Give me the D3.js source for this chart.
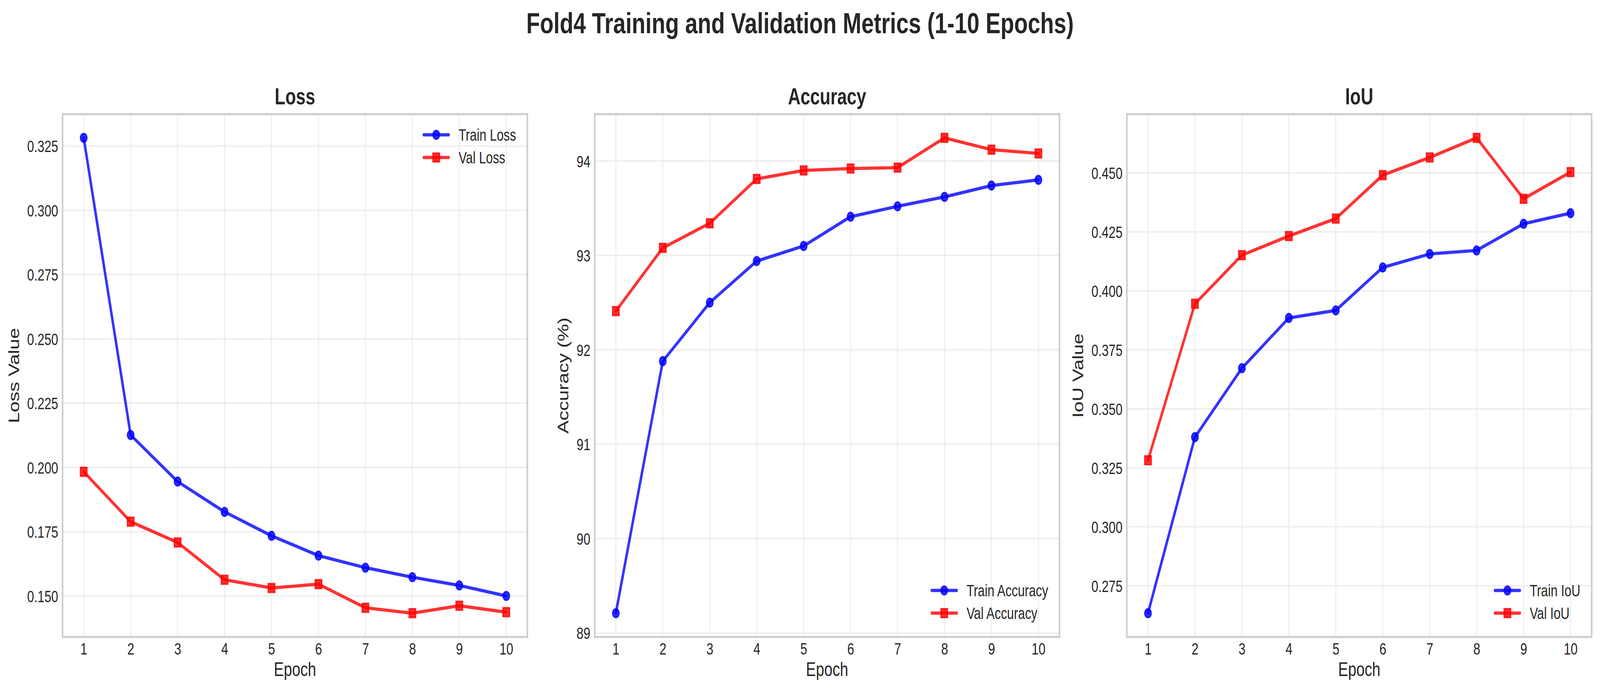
<!DOCTYPE html>
<html>
<head>
<meta charset="utf-8">
<script src="https://cdn.jsdelivr.net/npm/d3@7"></script>
<style>
    html, body { margin: 0; padding: 0; background: #ffffff; overflow: hidden; }
    svg { display: block; width: 100vw; height: 100vh; }
    text { font-family: "Liberation Sans", Arial, sans-serif; fill: #262626; }
</style>
</head>
<body>
<div id="chart"></div>
<script>
// values, one entry per epoch
const epochs = [1, 2, 3, 4, 5, 6, 7, 8, 9, 10];

const trainLoss = [0.3282, 0.2126, 0.1945, 0.1827, 0.1734, 0.1657, 0.1610, 0.1573, 0.1541, 0.1500];
const valLoss = [0.1983, 0.1789, 0.1708, 0.1563, 0.1531, 0.1546, 0.1454, 0.1433, 0.1462, 0.1437];

const trainAcc = [89.21, 91.88, 92.50, 92.94, 93.10, 93.41, 93.52, 93.62, 93.74, 93.80];
const valAcc = [92.41, 93.08, 93.34, 93.81, 93.90, 93.92, 93.93, 94.245, 94.12, 94.08];

const trainIoU = [0.2634, 0.3380, 0.3672, 0.3885, 0.3917, 0.4099, 0.4156, 0.4171, 0.4284, 0.4329];
const valIoU = [0.3282, 0.3945, 0.4151, 0.4232, 0.4306, 0.4490, 0.4565, 0.4648, 0.4390, 0.4503];

// tick labels
const lossTicks = [0.150, 0.175, 0.200, 0.225, 0.250, 0.275, 0.300, 0.325];
const accTicks = [89, 90, 91, 92, 93, 94];
const iouTicks = [0.275, 0.300, 0.325, 0.350, 0.375, 0.400, 0.425, 0.450];

const suptitle = "Fold4 Training and Validation Metrics (1-10 Epochs)";

let panels = [
    { title: "Loss", ylabel: "Loss Value", train: trainLoss, val: valLoss, names: ["Train Loss", "Val Loss"], ticks: lossTicks, fmt: d3.format(".3f"), legend: "upper" },
    { title: "Accuracy", ylabel: "Accuracy (%)", train: trainAcc, val: valAcc, names: ["Train Accuracy", "Val Accuracy"], ticks: accTicks, fmt: d3.format("d"), legend: "lower" },
    { title: "IoU", ylabel: "IoU Value", train: trainIoU, val: valIoU, names: ["Train IoU", "Val IoU"], ticks: iouTicks, fmt: d3.format(".3f"), legend: "lower" }
];

// figure geometry in figure pixels (300 dpi, 1pt = 4.17px); the svg viewBox maps it onto the window
let width = 5370;
let height = 1776;
let lefts = [210, 1996, 3782];
let panelW = 1560;
let axTop = 292;
let axBottom = 1630;

const PT = 300 / 72;
const tickSize = 10 * PT;
const labelSize = 12 * PT;
const titleSize = 14 * PT;
const gridColor = "#ededed";
const frameColor = "#cccccc";
const colors = { train: "#0000ff", val: "#ff0000" };

let svg = d3.select("#chart").append("svg")
    .attr("viewBox", `0 0 ${width} ${height}`)
    .attr("preserveAspectRatio", "none");

svg.append("rect")
    .attr("width", width)
    .attr("height", height)
    .attr("fill", "#ffffff");

svg.append("text")
    .attr("x", width / 2)
    .attr("y", 85)
    .attr("text-anchor", "middle")
    .attr("font-size", 18 * PT)
    .attr("font-weight", "bold")
    .text(suptitle);

// matplotlib style 5% margins on both axes
let padded = (vals) => {
    let ext = d3.extent(vals);
    let m = (ext[1] - ext[0]) * 0.05;
    return [ext[0] - m, ext[1] + m];
};

let drawMarker = (sel, kind, color) => {
    if (kind === "circle") {
        sel.append("circle").attr("r", 11);
    } else {
        sel.append("rect").attr("x", -11).attr("y", -11).attr("width", 22).attr("height", 22);
    }
    sel.selectAll("circle, rect")
        .attr("fill", color)
        .attr("fill-opacity", 0.8)
        .attr("stroke", color)
        .attr("stroke-opacity", 0.8)
        .attr("stroke-width", PT);
};

panels.forEach((p, i) => {
    let x0 = lefts[i];
    let x1 = x0 + panelW;

    let xScale = d3.scaleLinear()
        .domain(padded(epochs))
        .range([x0, x1]);
    let yScale = d3.scaleLinear()
        .domain(padded(p.train.concat(p.val)))
        .range([axBottom, axTop]);

    let g = svg.append("g");

    // grid
    g.append("g").selectAll("line")
        .data(epochs)
        .enter()
        .append("line")
        .attr("x1", d => xScale(d)).attr("x2", d => xScale(d))
        .attr("y1", axTop).attr("y2", axBottom)
        .attr("stroke", gridColor)
        .attr("stroke-width", 3.5);
    g.append("g").selectAll("line")
        .data(p.ticks)
        .enter()
        .append("line")
        .attr("x1", x0).attr("x2", x1)
        .attr("y1", d => yScale(d)).attr("y2", d => yScale(d))
        .attr("stroke", gridColor)
        .attr("stroke-width", 3.5);

    // axes (no tick marks, only labels)
    let xAxis = d3.axisBottom(xScale).tickValues(epochs).tickSize(0).tickPadding(15).tickFormat(d3.format("d"));
    let yAxis = d3.axisLeft(yScale).tickValues(p.ticks).tickSize(0).tickPadding(14.6).tickFormat(p.fmt);

    let gx = g.append("g")
        .attr("transform", `translate(0, ${axBottom})`)
        .call(xAxis);
    let gy = g.append("g")
        .attr("transform", `translate(${x0}, 0)`)
        .call(yAxis);
    [gx, gy].forEach(a => {
        a.select(".domain").remove();
        a.attr("font-family", null).attr("font-size", null);
        a.selectAll("text")
            .attr("font-size", tickSize)
            .attr("fill", "#262626");
    });
    gy.selectAll("text").attr("dy", "0.36em");

    // lines + markers
    let line = d3.line()
        .x((d, k) => xScale(epochs[k]))
        .y(d => yScale(d));

    [["train", "circle"], ["val", "square"]].forEach(([key, kind]) => {
        let vals = p[key];
        g.append("path")
            .datum(vals)
            .attr("d", line)
            .attr("fill", "none")
            .attr("stroke", colors[key])
            .attr("stroke-opacity", 0.8)
            .attr("stroke-width", 2 * PT)
            .attr("stroke-linejoin", "round")
            .attr("stroke-linecap", "round");
        g.append("g").selectAll("g")
            .data(vals)
            .enter()
            .append("g")
            .attr("transform", (d, k) => `translate(${xScale(epochs[k])}, ${yScale(d)})`)
            .each(function () { drawMarker(d3.select(this), kind, colors[key]); });
    });

    // frame
    g.append("rect")
        .attr("x", x0).attr("y", axTop)
        .attr("width", panelW).attr("height", axBottom - axTop)
        .attr("fill", "none")
        .attr("stroke", frameColor)
        .attr("stroke-width", 1.25 * PT);

    // titles and axis labels
    g.append("text")
        .attr("x", (x0 + x1) / 2)
        .attr("y", axTop - 6 * PT)
        .attr("text-anchor", "middle")
        .attr("font-size", titleSize)
        .attr("font-weight", "bold")
        .text(p.title);

    g.append("text")
        .attr("x", (x0 + x1) / 2)
        .attr("y", axBottom + 100)
        .attr("text-anchor", "middle")
        .attr("font-size", labelSize)
        .text("Epoch");

    let tickLeft = d3.min(gy.selectAll("text").nodes(), n => n.getBBox().x) + x0;
    let yl = tickLeft - 4 * PT - 10.5;
    g.append("text")
        .attr("transform", `translate(${yl}, ${(axTop + axBottom) / 2}) rotate(-90)`)
        .attr("text-anchor", "middle")
        .attr("font-size", labelSize)
        .text(p.ylabel);

    // legend, no frame
    let rows = p.legend === "upper" ? [axTop + 68, axTop + 126] : [axBottom - 104, axBottom - 46];
    let lg = g.append("g");
    let labels = lg.selectAll("text")
        .data(p.names)
        .enter()
        .append("text")
        .attr("y", (d, k) => rows[k])
        .attr("font-size", tickSize)
        .text(d => d);
    let maxW = d3.max(labels.nodes(), n => n.getComputedTextLength());
    let textX = x1 - 38 - maxW;
    labels.attr("x", textX);

    let hx1 = textX - 0.8 * tickSize;
    let hx0 = hx1 - 2 * tickSize;
    [["train", "circle"], ["val", "square"]].forEach(([key, kind], k) => {
        let cy = rows[k] - 15;
        lg.append("line")
            .attr("x1", hx0).attr("x2", hx1)
            .attr("y1", cy).attr("y2", cy)
            .attr("stroke", colors[key])
            .attr("stroke-opacity", 0.8)
            .attr("stroke-width", 2 * PT)
            .attr("stroke-linecap", "round");
        let m = lg.append("g").attr("transform", `translate(${(hx0 + hx1) / 2}, ${cy})`);
        drawMarker(m, kind, colors[key]);
    });
});
</script>
</body>
</html>
